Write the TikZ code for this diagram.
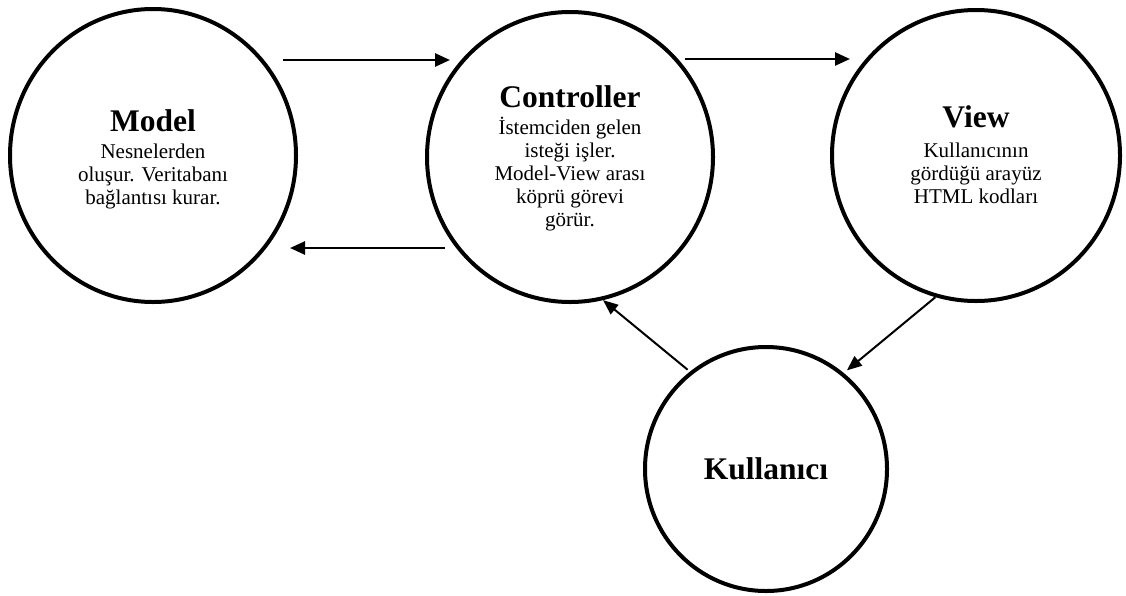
\documentclass[tikz,border=0pt]{standalone}
\usepackage{fontspec}
\setmainfont{Liberation Serif}
\usetikzlibrary{arrows.meta,shapes.geometric}
\tikzset{
  ring/.style={draw, line width=4pt, ellipse, inner sep=0pt, align=center,
    font=\fontsize{21}{23}\selectfont},
  arr/.style={line width=2.6pt, -{Triangle[length=15pt,width=13pt]}},
  diag/.style={line width=2pt, -{Triangle[length=15pt,width=12pt]}},
}
\newcommand{\ttlfont}{\fontsize{31.5}{31.5}\selectfont\bfseries}
\begin{document}
\begin{tikzpicture}[x=1pt,y=-1pt]
\useasboundingbox (0,0) rectangle (1126,595);
\node[ring, minimum width=286pt, minimum height=293pt, text height=102pt, text depth=5pt]
  (m) at (153,155.5) {{\ttlfont Model}\\[4pt]Nesnelerden\\oluşur. Veritabanı\\bağlantısı kurar.};
\node[ring, minimum width=286pt, minimum height=290pt, text height=144.4pt, text depth=5pt]
  (c) at (570,157) {{\ttlfont Controller}\\[4pt]İstemciden gelen\\isteği işler.\\Model-View arası\\köprü görevi\\görür.};
\node[ring, minimum width=288pt, minimum height=291pt, text height=100pt, text depth=5pt]
  (v) at (976,155.5) {{\ttlfont View}\\[7pt]Kullanıcının\\gördüğü arayüz\\HTML kodları};
\node[ring, minimum width=242pt, minimum height=244pt, text height=22pt, text depth=2pt]
  (k) at (766,469) {{\ttlfont Kullanıcı}};
\coordinate (p1) at (283,60);
\coordinate (p2) at (450,60);
\coordinate (p3) at (445,248);
\coordinate (p4) at (290,248);
\coordinate (p5) at (685,59);
\coordinate (p6) at (850,59);
\draw[arr] (p1) -- (p2);
\draw[arr] (p3) -- (p4);
\draw[arr] (p5) -- (p6);
\draw[diag, shorten >=4pt] (v.-106) -- (k.51);
\draw[diag, shorten <=3pt] (k.128.6) -- (c.-77);
\end{tikzpicture}
\end{document}
